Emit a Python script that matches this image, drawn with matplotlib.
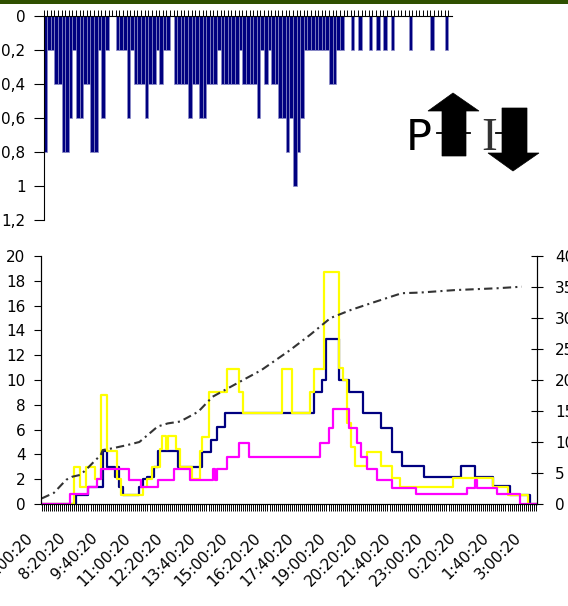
import numpy as np
import matplotlib.pyplot as plt
import matplotlib.transforms as mtransforms
from matplotlib.patches import Polygon, Rectangle
from matplotlib.lines import Line2D

plt.rcParams['font.family'] = ['DejaVu Sans']

# rainfall per 10 min step (top panel, inverted)
rain = [0.8, 0.2, 0.2, 0.4, 0.4, 0.8, 0.8, 0.6, 0.2, 0.6,
        0.6, 0.4, 0.4, 0.8, 0.8, 0.2, 0.6, 0.2, 0, 0,
        0.2, 0.2, 0.2, 0.6, 0.2, 0.4, 0.4, 0.4, 0.6, 0.4,
        0.4, 0.2, 0.4, 0.2, 0.2, 0, 0.4, 0.4, 0.4, 0.4,
        0.6, 0.4, 0.4, 0.6, 0.6, 0.4, 0.4, 0.4, 0.2, 0.4,
        0.4, 0.4, 0.4, 0.4, 0.2, 0.4, 0.4, 0.4, 0.4, 0.6,
        0.2, 0.4, 0.2, 0.4, 0.4, 0.6, 0.6, 0.8, 0.6, 1.0,
        0.8, 0.6, 0.2, 0.2, 0.2, 0.2, 0.2, 0.2, 0.2, 0.4,
        0.4, 0.2, 0.2, 0, 0, 0.2, 0, 0.2, 0, 0,
        0.2, 0, 0.2, 0, 0.2, 0, 0.2, 0, 0, 0,
        0, 0.2, 0, 0, 0, 0, 0, 0.2, 0, 0,
        0, 0.2, 0]
rain_labels = ['0', '0,2', '0,4', '0,6', '0,8', '1', '1,2']

# bottom panel: 5 min categories from 7:00:20 to 3:15:20
n_cat = 244
time_labels = ['7:00:20', '8:20:20', '9:40:20', '11:00:20', '12:20:20',
               '13:40:20', '15:00:20', '16:20:20', '17:40:20', '19:00:20',
               '20:20:20', '21:40:20', '23:00:20', '0:20:20', '1:40:20',
               '3:00:20']

# step series: category index where a level starts, and the level
navy_x = [0, 17, 23, 30, 32, 36, 37, 38, 40, 48, 50, 52, 55, 57, 67, 79, 83,
          86, 90, 134, 138, 140, 146, 151, 158, 167, 172, 177, 188, 206, 213,
          222, 230, 240, 243]
navy_y = [0, 0.75, 1.4, 4.3, 3.0, 2.2, 3.0, 1.4, 0.75, 1.4, 2.0, 2.2, 3.0,
          4.3, 3.0, 4.2, 5.2, 6.2, 7.3, 9.0, 10.0, 13.3, 10.0, 9.0, 7.3, 6.1,
          4.2, 3.1, 2.2, 3.1, 2.2, 1.45, 0.75, 0, 0]

yellow_x = [0, 16, 19, 22, 26, 29, 32, 37, 39, 50, 52, 54, 58, 59, 61, 62,
            66, 68, 74, 78, 79, 82, 91, 97, 99, 118, 123, 132, 134, 139, 146,
            148, 150, 152, 154, 160, 167, 172, 176, 202, 222, 229, 239, 243]
yellow_y = [0, 3.0, 1.4, 3.0, 2.0, 8.8, 4.3, 2.0, 0.75, 1.4, 2.0, 3.0, 4.4,
            5.5, 4.4, 5.5, 4.4, 3.0, 2.0, 4.3, 5.4, 9.0, 10.9, 9.0, 7.3, 10.9,
            7.3, 9.0, 10.9, 18.7, 11.0, 10.0, 6.5, 4.6, 3.1, 4.2, 3.1, 2.1,
            1.4, 2.1, 1.4, 0.7, 0, 0]

magenta_x = [0, 14, 23, 27, 29, 43, 49, 57, 65, 73, 84, 85, 86, 91, 97, 102,
             137, 141, 143, 151, 155, 157, 160, 165, 172, 184, 209, 213, 214,
             224, 235, 243]
magenta_y = [0, 0.8, 1.4, 2.0, 2.8, 1.9, 1.35, 1.9, 2.8, 1.9, 2.8, 1.9, 2.8,
             3.8, 4.9, 3.8, 4.9, 6.1, 7.7, 6.1, 4.9, 3.8, 2.8, 1.9, 1.3, 0.8,
             1.3, 1.9, 1.3, 0.8, 0, 0]

# cumulative rain (right axis)
cum_x = [0, 6, 12, 15, 19, 22, 25, 29, 30, 35, 42, 48, 52, 57, 62, 68, 72,
         77, 84, 99, 108, 122, 132, 142, 152, 162, 177, 186, 203, 224, 236]
cum_y = [0.9, 1.8, 3.9, 4.4, 4.7, 5.6, 6.6, 7.9, 8.7, 9.0, 9.5, 10, 11.1,
         12.5, 13, 13.3, 14, 14.9, 17.3, 20, 21.6, 24.8, 27.3, 30, 31.3, 32.4,
         34, 34.1, 34.5, 34.8, 35.05]

W, H = 568, 606
fig = plt.figure(figsize=(W / 100, H / 100), dpi=100)

def fx(x):
    return x / W

def fy(y):
    return 1 - y / H

# ---- top panel ----
ax1 = fig.add_axes([fx(43.5), fy(220), fx(452) - fx(43.5), fy(15.5) - fy(220)])
ax1.bar(np.arange(len(rain)), rain, width=1.0, color='#000080',
        edgecolor='#8c8cc8', linewidth=0.5)
ax1.set_xlim(-0.5, len(rain) - 0.5)
ax1.set_ylim(1.2, 0)
ax1.set_yticks(np.arange(0, 1.21, 0.2))
ax1.set_yticklabels(rain_labels, fontsize=11)
ax1.xaxis.tick_top()
ax1.set_xticks(np.arange(len(rain)) - 0.5)
ax1.set_xticklabels([])
ax1.tick_params(axis='x', length=4, width=0.7, direction='out')
ax1.tick_params(axis='y', length=7, width=0.8, pad=6)
for s in ['bottom', 'right']:
    ax1.spines[s].set_visible(False)

# ---- bottom panel ----
ax2 = fig.add_axes([fx(40.7), fy(504), fx(537) - fx(40.7), fy(256) - fy(504)])
ax2.plot(navy_x, navy_y, drawstyle='steps-post', color='#000080', lw=1.6)
ax2.plot(yellow_x, yellow_y, drawstyle='steps-post', color='#FFFF00', lw=1.6)
ax2.plot(magenta_x, magenta_y, drawstyle='steps-post', color='#FF00FF', lw=1.6)
ax2.set_xlim(-0.5, n_cat - 0.5)
ax2.set_ylim(0, 20)
ax2.set_yticks(np.arange(0, 21, 2))
ax2.tick_params(axis='y', labelsize=11, length=5, width=0.8, pad=6)
ax2.set_xticks(np.arange(0, n_cat, 16))
ax2.set_xticklabels(time_labels, rotation=45, ha='right', fontsize=11)
ax2.set_xticks(np.arange(n_cat), minor=True)
ax2.tick_params(axis='x', which='both', length=5, width=0.7, pad=14)
ax2.spines['top'].set_visible(False)
offset = mtransforms.ScaledTranslation(-6 / 100, 0, fig.dpi_scale_trans)
for lab in ax2.xaxis.get_majorticklabels():
    lab.set_transform(lab.get_transform() + offset)

ax3 = ax2.twinx()
ax3.plot(cum_x, cum_y, color='#333333', lw=1.5, linestyle=(0, (4, 2, 1, 2)))
ax3.set_ylim(0, 40)
ax3.set_yticks(np.arange(0, 41, 5))
ax3.tick_params(axis='y', labelsize=11, length=8, width=0.8,
                direction='inout', pad=9)
ax3.spines['top'].set_visible(False)

# green band at top
fig.add_artist(Rectangle((0, fy(4)), 1, fy(0) - fy(4), transform=fig.transFigure,
                         color='#2f5000', lw=0))

# P / I arrows icon
def poly(pts):
    return Polygon([(fx(x), fy(y)) for x, y in pts], closed=True,
                   transform=fig.transFigure, facecolor='black',
                   edgecolor='black', lw=0.5)

fig.add_artist(Line2D([fx(437), fx(470)], [fy(133), fy(133)],
                      transform=fig.transFigure, color='black', lw=1.3))
fig.add_artist(Line2D([fx(496), fx(506)], [fy(133), fy(133)],
                      transform=fig.transFigure, color='black', lw=1.3))
fig.add_artist(poly([(453, 93), (479, 111), (466, 111), (466, 156),
                     (442, 156), (442, 111), (428, 111)]))
fig.add_artist(poly([(502, 108), (527, 108), (527, 153), (539, 153),
                     (513, 171), (488, 153), (502, 153)]))
fig.text(fx(406), fy(150), 'P', fontsize=31, color='black',
         ha='left', va='baseline')
fig.text(fx(481), fy(150), 'I', fontsize=34, color='#333333',
         family='Liberation Serif', ha='left', va='baseline')

fig.savefig('out.png', dpi=100)
